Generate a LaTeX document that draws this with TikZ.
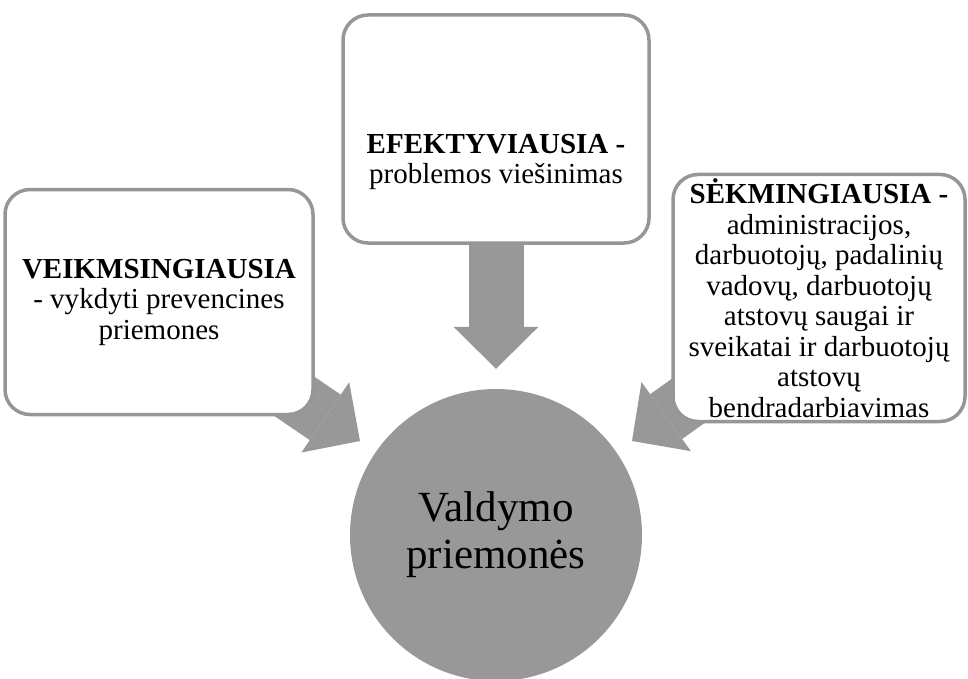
\documentclass[tikz,border=0pt]{standalone}
\usepackage{fontspec}
\setmainfont{Liberation Serif}
\usetikzlibrary{arrows.meta,calc,backgrounds}
\definecolor{shade}{RGB}{152,152,152}
\definecolor{rimgray}{RGB}{150,150,150}

\begin{document}
\begin{tikzpicture}[x=1pt, y=-1pt,
  every node/.style={font=\fontsize{29}{30.5}\selectfont},
  card/.style={draw=rimgray, line width=3.5pt, fill=white, rounded corners=25pt,
               inner sep=0pt, align=center},
  hub/.style={circle, fill=shade, inner sep=0pt, minimum size=292pt, align=center,
              font=\fontsize{43}{47}\selectfont},
  fatarr/.style={draw=shade, line width=55pt,
                 -{Triangle[length=42pt, width=85pt, line width=0pt]}},
]
\useasboundingbox (0,0) rectangle (968,679);
\node[card, minimum width=308pt, minimum height=225pt] (veik) at (159,302)
  {\textbf{VEIKMSINGIAUSIA}\\- vykdyti prevencines\\priemones};
\node[card, minimum width=306pt, minimum height=228pt] (efek) at (496,129) {};
\node[align=center] (efektxt) at ($(efek)+(0,33)$)
  {\textbf{EFEKTYVIAUSIA -}\\problemos viešinimas};
\node[card, minimum width=292pt, minimum height=247pt] (sekm) at (819,298)
  {\textbf{SĖKMINGIAUSIA -}\\administracijos,\\darbuotojų, padalinių\\vadovų, darbuotojų\\atstovų saugai ir\\sveikatai ir darbuotojų\\atstovų\\bendradarbiavimas};
\node[hub] (vald) at (496,535) {Valdymo\\priemonės};
% arrows behind the boxes
\begin{scope}[on background layer]
\draw[fatarr] ($(efek.south)+(0,-15)$) -- ($(vald.north)+(0,-20)$);
\draw[fatarr] ($(veik.south east)+(-50,-40)$) -- ($(vald)+(-136,-94)$);
\draw[fatarr] ($(sekm.south west)+(50,-46)$) -- ($(vald)+(136,-94)$);
\end{scope}
\end{tikzpicture}
\end{document}
